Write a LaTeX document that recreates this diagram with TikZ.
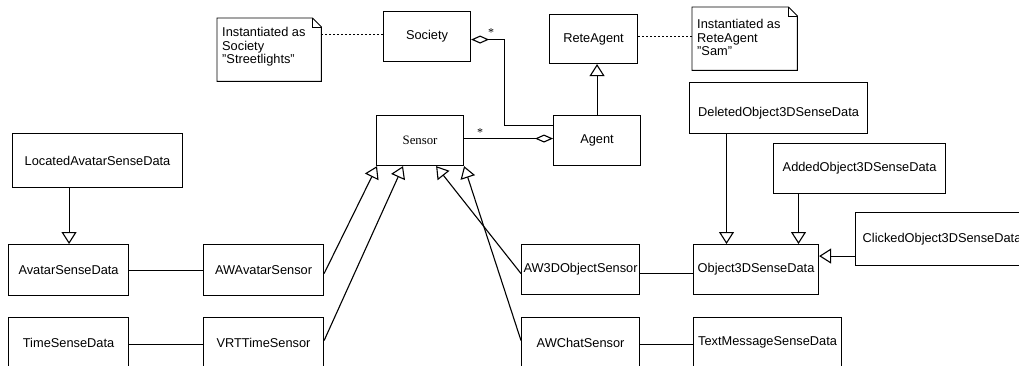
\documentclass[tikz,border=0pt]{standalone}
\usepackage{fontspec}
\setmainfont{Liberation Sans}
\newfontfamily\serifx{Liberation Serif}
\usetikzlibrary{arrows.meta}
\tikzset{
  cls/.style={draw, line width=1.1pt, inner sep=0pt, anchor=north west, align=center,
    font=\fontsize{12.8}{13.5}\selectfont},
  notebox/.style={inner sep=0pt, anchor=north west},
  notetext/.style={inner sep=0pt, anchor=north west, align=left,
    font=\fontsize{12.8}{13.5}\selectfont},
  outline/.style={line width=0.9pt},
  conn/.style={line width=1.1pt},
  dashconn/.style={line width=0.7pt, dash pattern=on 2pt off 2pt},
  gen/.style={line width=1.1pt, -{Triangle[open, length=12pt, width=15pt]}},
  aggr/.style={line width=1.1pt, {Diamond[open, length=18pt, width=8pt]}-},
  aggrend/.style={line width=1.1pt, -{Diamond[open, length=18pt, width=8pt]}},
  mult/.style={inner sep=0pt, font=\serifx\fontsize{12}{12}\selectfont},
}
\begin{document}
\begin{tikzpicture}[x=1pt, y=-1pt]
\useasboundingbox (0,0) rectangle (1019,365);
\clip (0,0) rectangle (1019,365);

% classes
\node[cls, minimum width=87pt, minimum height=50pt] (society) at (383,11) {Society};
\node[cls, minimum width=88pt, minimum height=49pt] (rete) at (549,14) {ReteAgent};
\node[cls, minimum width=87pt, minimum height=50pt, font=\serifx\fontsize{12.8}{13.5}\selectfont] (sensor) at (376,115) {Sensor};
\node[cls, minimum width=87pt, minimum height=50pt] (agent) at (553,115) {Agent};
\node[cls, minimum width=178pt, minimum height=51pt, text height=19pt] (deleted) at (689,82) {DeletedObject3DSenseData};
\node[cls, minimum width=170pt, minimum height=54pt] (located) at (12,133) {LocatedAvatarSenseData};
\node[cls, minimum width=172pt, minimum height=50pt] (added) at (773,143) {AddedObject3DSenseData};
\node[cls, minimum width=173pt, minimum height=53pt] (clicked) at (855,212) {ClickedObject3DSenseData};
\node[cls, minimum width=120pt, minimum height=51pt] (avatarsd) at (8,244) {AvatarSenseData};
\node[cls, minimum width=120pt, minimum height=51pt] (awavatar) at (203,244) {AWAvatarSensor};
\node[cls, minimum width=118pt, minimum height=50pt] (aw3d) at (521,244) {AW3DObjectSensor};
\node[cls, minimum width=125pt, minimum height=50pt] (obj3d) at (693,244) {Object3DSenseData};
\node[cls, minimum width=120pt, minimum height=50pt] (timesd) at (8,317) {TimeSenseData};
\node[cls, minimum width=120pt, minimum height=50pt] (vrt) at (203,317) {VRTTimeSensor};
\node[cls, minimum width=118pt, minimum height=50pt] (awchat) at (521,317) {AWChatSensor};
\node[cls, minimum width=148pt, minimum height=50pt] (textmsg) at (693,317) {TextMessageSenseData};

% notes
\node[notebox, minimum width=104pt, minimum height=63pt] (note1) at (217,18) {};
\draw[outline] (note1.north west) -- ([xshift=-9pt]note1.north east) -- ([yshift=-9pt]note1.north east)
  -- (note1.south east) -- (note1.south west) -- cycle;
\draw[outline] ([xshift=-9pt]note1.north east) -- ([xshift=-9pt,yshift=-9pt]note1.north east) -- ([yshift=-9pt]note1.north east);
\node[notetext] (note1text) at (222,27.4) {Instantiated as\\Society\\"Streetlights"};

\node[notebox, minimum width=105pt, minimum height=63pt] (note2) at (692,7) {};
\draw[outline] (note2.north west) -- ([xshift=-9pt]note2.north east) -- ([yshift=-9pt]note2.north east)
  -- (note2.south east) -- (note2.south west) -- cycle;
\draw[outline] ([xshift=-9pt]note2.north east) -- ([xshift=-9pt,yshift=-9pt]note2.north east) -- ([yshift=-9pt]note2.north east);
\node[notetext] (note2text) at (697,19.2) {Instantiated as\\ReteAgent\\"Sam"};

% note links
\draw[dashconn] ([yshift=2pt]society.west) -- ([yshift=2pt]society.west -| note1.east);
\draw[dashconn] ([yshift=3pt]rete.east) -- ([yshift=3pt]rete.east -| note2.west);

% aggregations
\draw[aggr] ([yshift=-3pt]society.east) -- ++(33,0) |- ([yshift=15pt]agent.west);
\node[mult] (star1) at (491,33) {*};
\draw[aggrend] ([yshift=2pt]sensor.east) -- ([yshift=2pt]agent.west);
\node[mult] (star2) at (480,133) {*};

% generalizations
\draw[gen] (agent.north) -- (agent.north |- rete.south);
\draw[gen] ([xshift=0.5pt]located.south -| avatarsd.north) -- ([xshift=0.5pt]avatarsd.north);
\draw[gen] ([yshift=-3.5pt]awavatar.east) -- ([xshift=1pt]sensor.south west);
\draw[gen] ([yshift=2pt]vrt.east) -- ([xshift=27pt]sensor.south west);
\draw[gen] ([yshift=-4pt]aw3d.west) -- ([xshift=-28pt]sensor.south east);
\draw[gen] ([yshift=2pt]awchat.west) -- (sensor.south east);

\coordinate (dtip) at ([xshift=33.5pt]obj3d.north west);
\coordinate (atip) at ([xshift=105.5pt]obj3d.north west);
\coordinate (ctip) at ([yshift=13.5pt]obj3d.east);
\draw[gen] (dtip |- deleted.south) -- (dtip);
\draw[gen] (atip |- added.south) -- (atip);
\draw[gen] (ctip -| clicked.west) -- (ctip);

% associations
\draw[conn] (avatarsd.east) -- (awavatar.west);
\draw[conn] ([yshift=-1.5pt]timesd.east) -- ([yshift=-1.5pt]vrt.west);
\draw[conn] ([yshift=-3.5pt]aw3d.east) -- ([yshift=-3.5pt]obj3d.west);
\draw[conn] ([yshift=-1.5pt]awchat.east) -- ([yshift=-1.5pt]textmsg.west);
\end{tikzpicture}
\end{document}
